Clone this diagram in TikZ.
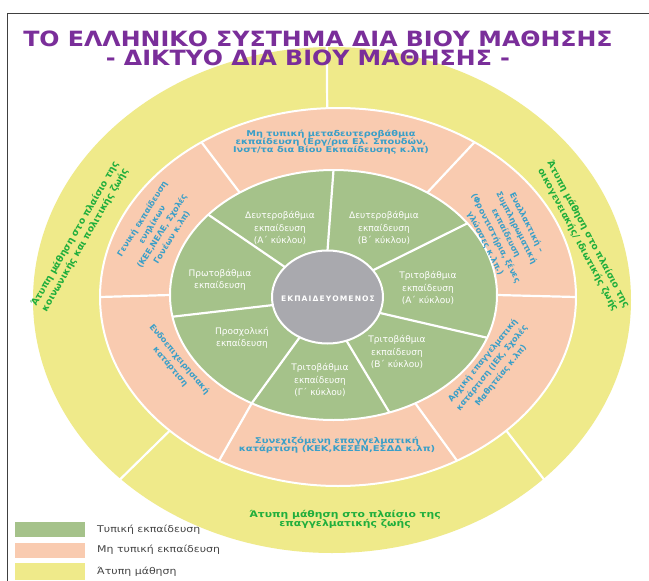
\documentclass[tikz,border=0pt]{standalone}
\usepackage{fontspec}
\setmainfont{DejaVu Sans}
\usetikzlibrary{calc}
\definecolor{yel}{HTML}{EFEA8A}
\definecolor{sal}{HTML}{F9CBB0}
\definecolor{grn}{HTML}{A5C28A}
\definecolor{gry}{HTML}{A9A9AE}
\definecolor{ttl}{HTML}{7A2E9A}
\definecolor{blu}{HTML}{3A9FC8}
\definecolor{dgr}{HTML}{1FAE3C}
\definecolor{legc}{HTML}{444444}
\begin{document}
\begin{tikzpicture}[x=1pt,y=-1pt,
  divider/.style={white,line width=2.2pt},
  ringedge/.style={draw=white,line width=2pt},
  gtext/.style={text=white,align=center,font=\fontsize{9}{12.5}\selectfont,inner sep=0pt},
  stext/.style={text=blu,align=center,font=\bfseries\fontsize{8}{10}\selectfont,inner sep=0pt},
  srot/.style={text=blu,align=center,font=\bfseries\fontsize{8.2}{11.6}\selectfont,inner sep=0pt},
  ytext/.style={text=dgr,align=center,font=\bfseries\fontsize{9}{10.5}\selectfont,inner sep=0pt},
  yrot/.style={text=dgr,align=center,font=\bfseries\fontsize{9.3}{11.6}\selectfont,inner sep=0pt},
  legtext/.style={text=legc,anchor=west,font=\fontsize{9.3}{10}\selectfont,inner sep=0pt},
  ttext/.style={text=ttl,font=\bfseries\fontsize{21}{24}\selectfont,inner sep=0pt},
  legbox/.style={inner sep=0pt,minimum width=70pt,minimum height=15pt}
  ]
\useasboundingbox (0,0) rectangle (649,581);
\fill[white] (0,0) rectangle (649,581);
\draw[black!75,line width=1.2pt] (7.5,581) -- (7.5,13.5) -- (649,13.5);

\coordinate (cY) at (332,300);
\coordinate (cS) at (338,297);
\coordinate (cG) at (333.5,295);
\coordinate (cC) at (327.5,297);

% rings
\fill[yel] (cY) ellipse [x radius=299pt, y radius=253pt];
\filldraw[sal,ringedge] (cS) ellipse [x radius=238pt, y radius=189pt];
\filldraw[grn,ringedge] (cG) ellipse [x radius=163.5pt, y radius=125pt];

% yellow ring dividers
\draw[divider] ($(cS)+(92.6:238pt and 189pt)$) -- ($(cY)+(91:300pt and 254pt)$);
\foreach \a in {225,315}
  \draw[divider] ($(cS)+(\a:238pt and 189pt)$) -- ($(cY)+(\a:300pt and 254pt)$);
% salmon ring dividers
\foreach \a in {55,125,180,240,300,0}
  \draw[divider] ($(cG)+(\a:163.5pt and 125pt)$) -- ($(cS)+(\a:238pt and 189pt)$);
% green ring dividers
\foreach \a in {90,140,190,240,290,340,35}
  \draw[divider] ($(cC)+(\a:55.5pt and 46.5pt)$) -- ($(cG)+(\a:163.5pt and 125pt)$);

\filldraw[gry,ringedge] (cC) ellipse [x radius=55.5pt, y radius=46.5pt];

% title
\node[ttext] (t1) at (318,38.5) {\scalebox{1.13}[1]{ΤΟ ΕΛΛΗΝΙΚΟ ΣΥΣΤΗΜΑ ΔΙΑ ΒΙΟΥ ΜΑΘΗΣΗΣ}};
\node[ttext] (t2) at (308,58) {\scalebox{1.13}[1]{- ΔΙΚΤΥΟ ΔΙΑ ΒΙΟΥ ΜΑΘΗΣΗΣ -}};

% centre
\node[text=white,inner sep=0pt,font=\bfseries\fontsize{7.6}{9}\selectfont\addfontfeature{LetterSpace=14}] (ctr) at (328,299) {ΕΚΠΑΙΔΕΥΟΜΕΝΟΣ};

% green ring texts
\node[gtext] (g1) at (280,228) {Δευτεροβάθμια\\εκπαίδευση\\(Α΄ κύκλου)};
\node[gtext] (g2) at (384,228) {Δευτεροβάθμια\\εκπαίδευση\\(Β΄ κύκλου)};
\node[gtext] (g3) at (220,280) {Πρωτοβάθμια\\εκπαίδευση};
\node[gtext] (g4) at (428,288) {Τριτοβάθμια\\εκπαίδευση\\(Α΄ κύκλου)};
\node[gtext] (g5) at (242,338) {Προσχολική\\εκπαίδευση};
\node[gtext] (g6) at (397,352) {Τριτοβάθμια\\εκπαίδευση\\(Β΄ κύκλου)};
\node[gtext] (g7) at (320,380) {Τριτοβάθμια\\εκπαίδευση\\(Γ΄ κύκλου)};

% salmon ring texts
\node[stext] (s1) at (331,142) {\scalebox{1.22}[1]{\begin{tabular}{@{}c@{}}Μη τυπική μεταδευτεροβάθμια\\[-2pt]εκπαίδευση (Εργ/ρια Ελ. Σπουδών,\\[-2pt]Ινστ/τα δια Βίου Εκπαίδευσης κ.λπ)\end{tabular}}};
\node[srot,rotate=58] (s2) at (157,228) {Γενική εκπαίδευση\\ενηλίκων\\(ΚΕΕ,ΝΕΛΕ, Σχολές\\Γονέων κ.λπ)};
\node[srot,rotate=-63] (s3) at (506,233) {Εναλλακτική –\\Συμπληρωματική\\εκπαίδευση\\(Φροντιστήρια, ξένες\\γλώσσες κ.λπ.)};
\node[srot,rotate=-50] (s4) at (175,363) {Ενδοεπιχειρησιακή\\κατάρτιση};
\node[srot,rotate=51] (s5) at (492,368) {Αρχική επαγγελματική\\κατάρτιση (ΙΕΚ, Σχολές\\Μαθητείας κ.λπ)};
\node[stext] (s6) at (337,445) {\scalebox{1.25}[1]{\begin{tabular}{@{}c@{}}Συνεχιζόμενη επαγγελματική\\[-2pt]κατάρτιση (ΚΕΚ,ΚΕΣΕΝ,ΕΣΔΔ κ.λπ)\end{tabular}}};

% yellow ring texts
\node[yrot,rotate=60] (y1) at (80,237) {Άτυπη μάθηση στο πλαίσιο της\\κοινωνικής και πολιτικής ζωής};
\node[yrot,rotate=-62] (y2) at (583,237) {Άτυπη μάθηση στο πλαίσιο της\\οικογενειακής/ ιδιωτικής ζωής};
\node[ytext] (y3) at (345,520) {\scalebox{1.2}[1]{\begin{tabular}{@{}c@{}}Άτυπη μάθηση στο πλαίσιο της\\[-2pt]επαγγελματικής ζωής\end{tabular}}};

% legend
\node[legbox,fill=grn] (l1) at (50,529.5) {};
\node[legbox,fill=sal] (l2) at (50,550.5) {};
\node[legbox,fill=yel,minimum height=17pt] (l3) at (50,571.5) {};
\node[legtext] (lt1) at (97,530) {\scalebox{1.18}[1]{Τυπική εκπαίδευση}};
\node[legtext] (lt2) at (97,550) {\scalebox{1.18}[1]{Μη τυπική εκπαίδευση}};
\node[legtext] (lt3) at (97,572) {\scalebox{1.18}[1]{Άτυπη μάθηση}};
\end{tikzpicture}
\end{document}
